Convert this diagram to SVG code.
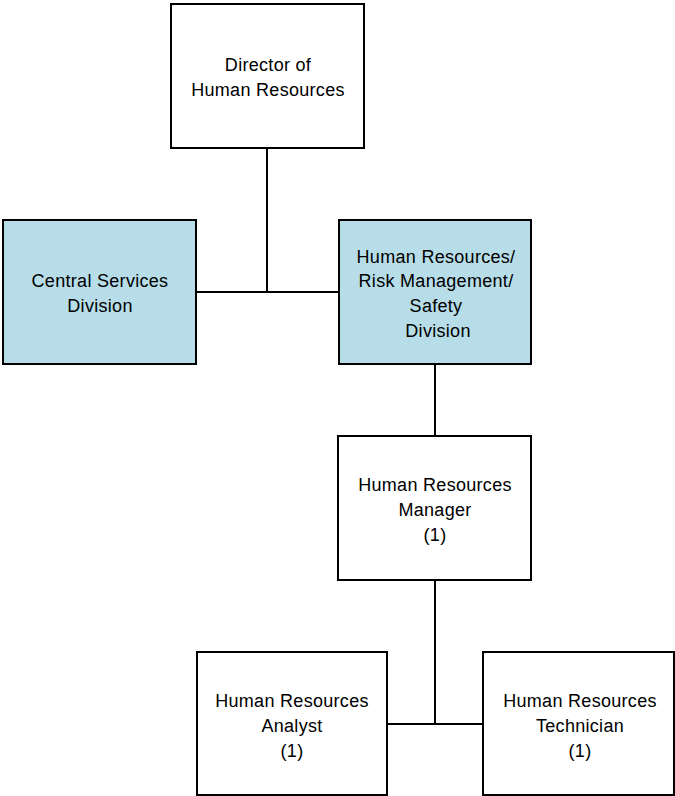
<svg xmlns="http://www.w3.org/2000/svg" width="675" height="796" viewBox="0 0 675 796">
  <style>
    .box { fill: #ffffff; stroke: #000000; stroke-width: 2; }
    .div { fill: #b7dde8; stroke: #000000; stroke-width: 2; }
    .lbl { font-family: "Liberation Sans", Arial, sans-serif; font-size: 18px; fill: #000000; text-anchor: middle; letter-spacing: 0.3px; }
    .conn { stroke: #000000; stroke-width: 2; fill: none; }
  </style>
  <rect width="675" height="796" fill="#ffffff"/>

  <g id="connectors">
    <path class="conn" d="M267 148 V292 M196 292 H339"/>
    <path class="conn" d="M435 364 V436"/>
    <path class="conn" d="M435 580 V724 M387 724 H483"/>
  </g>

  <g id="director">
    <rect class="box" x="171" y="4" width="193" height="144"/>
    <text class="lbl" x="268" y="71">Director of</text>
    <text class="lbl" x="268" y="96">Human Resources</text>
  </g>

  <g id="central-services">
    <rect class="div" x="3" y="220" width="193" height="144"/>
    <text class="lbl" x="100" y="287">Central Services</text>
    <text class="lbl" x="100" y="312">Division</text>
  </g>

  <g id="hr-risk-safety">
    <rect class="div" x="339" y="220" width="192" height="144"/>
    <text class="lbl" x="436" y="263">Human Resources/</text>
    <text class="lbl" x="436" y="287">Risk Management/</text>
    <text class="lbl" x="436" y="312">Safety</text>
    <text class="lbl" x="438" y="337">Division</text>
  </g>

  <g id="hr-manager">
    <rect class="box" x="338" y="436" width="193" height="144"/>
    <text class="lbl" x="435" y="491">Human Resources</text>
    <text class="lbl" x="435" y="516">Manager</text>
    <text class="lbl" x="435" y="541">(1)</text>
  </g>

  <g id="hr-analyst">
    <rect class="box" x="197" y="652" width="190" height="143"/>
    <text class="lbl" x="292" y="707">Human Resources</text>
    <text class="lbl" x="292" y="732">Analyst</text>
    <text class="lbl" x="292" y="757">(1)</text>
  </g>

  <g id="hr-technician">
    <rect class="box" x="483" y="652" width="191" height="143"/>
    <text class="lbl" x="580" y="707">Human Resources</text>
    <text class="lbl" x="580" y="732">Technician</text>
    <text class="lbl" x="580" y="757">(1)</text>
  </g>
</svg>
